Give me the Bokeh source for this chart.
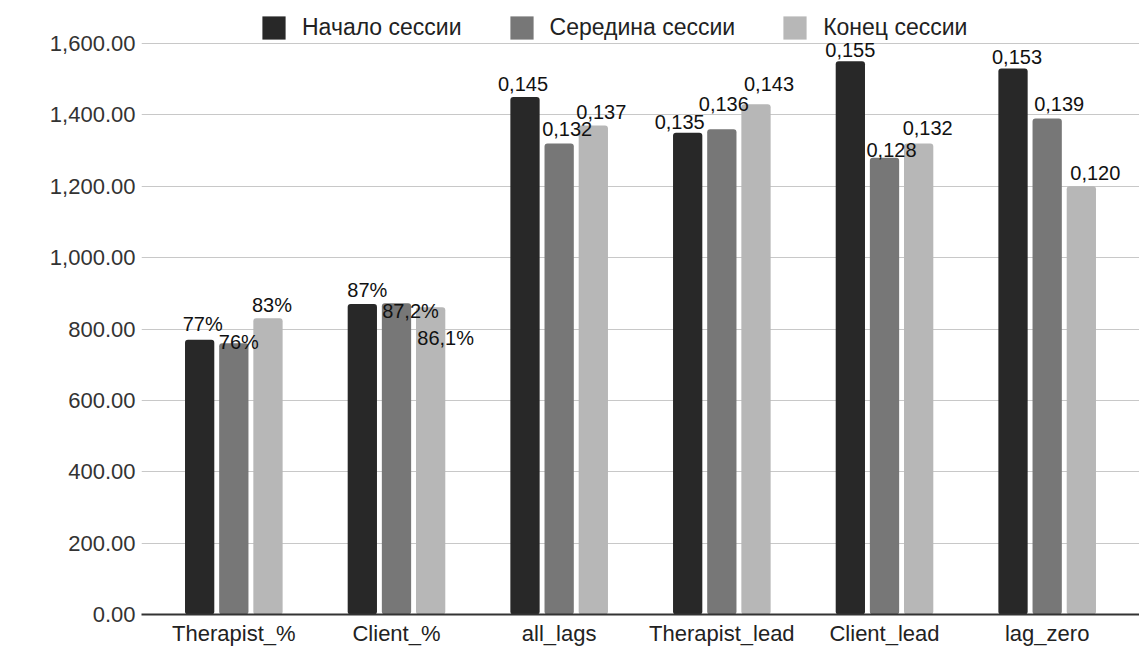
from bokeh.plotting import figure
from bokeh.models import (FactorRange, ColumnDataSource, Legend, LegendItem,
                          NumeralTickFormatter, FixedTicker, LabelSet, Range1d)
from bokeh.transform import dodge
from bokeh.embed import file_html
from bokeh.resources import INLINE
from bokeh.core.properties import value

# ---- data ----
categories = ["Therapist_%", "Client_%", "all_lags", "Therapist_lead", "Client_lead", "lag_zero"]
series_names = ["Начало сессии", "Середина сессии", "Конец сессии"]
start_values = [770, 870, 1450, 1350, 1550, 1530]
middle_values = [760, 872, 1320, 1360, 1280, 1390]
end_values = [830, 861, 1370, 1430, 1320, 1200]
start_labels = ["77%", "87%", "0,145", "0,135", "0,155", "0,153"]
middle_labels = ["76%", "87,2%", "0,132", "0,136", "0,128", "0,139"]
end_labels = ["83%", "86,1%", "0,137", "0,143", "0,132", "0,120"]
y_ticks = [0, 200, 400, 600, 800, 1000, 1200, 1400, 1600]

# ---- style ----
colors = ["#282828", "#777777", "#b7b7b7"]
offsets = [-0.21, 0.0, 0.21]
# label nudges in screen pixels (dx right, dy up), mimicking the original's placement
start_dx = [3, 5, -2, -8, 0, 4]
start_dy = [9, 7, 6, 4, 4, 4]
middle_dx = [5, 14, 8, 2, 7, 12]
middle_dy = [-6, -15, 7, 18, 1, 7]
end_dx = [4, 15, 8, 13, 9, 14]
end_dy = [6, -38, 7, 13, 8, 6]

FONT = "Liberation Sans"
W, H = 1139, 648
TOP, BOTTOM, LEFT = 5, 34, 141
PX_PER_UNIT = 571 / 1600.0           # vertical scale of the original
frame_h = H - TOP - BOTTOM
y_end = frame_h / PX_PER_UNIT       # headroom above 1600 holds the legend

p = figure(x_range=FactorRange(*categories), y_range=Range1d(0, y_end),
           width=W, height=H, output_backend="svg", toolbar_location=None,
           min_border_left=LEFT, min_border_right=0, min_border_top=TOP,
           min_border_bottom=BOTTOM)
p.x_range.range_padding = 0.0225

values_list = [start_values, middle_values, end_values]
labels_list = [start_labels, middle_labels, end_labels]
dx_list = [start_dx, middle_dx, end_dx]
dy_list = [start_dy, middle_dy, end_dy]

items = []
for i in range(3):
    src = ColumnDataSource(dict(cat=categories, val=values_list[i], lab=labels_list[i],
                                dx=dx_list[i], dy=dy_list[i]))
    r = p.vbar(x=dodge("cat", offsets[i], range=p.x_range), top="val", width=0.18,
               source=src, fill_color=colors[i], line_color=None, border_radius=3)
    items.append(LegendItem(label=series_names[i], renderers=[r]))
    ls = LabelSet(x=dodge("cat", offsets[i], range=p.x_range), y="val", text="lab",
                  x_offset="dx", y_offset="dy", source=src,
                  text_align="center", text_baseline="alphabetic",
                  text_font=value(FONT), text_font_size="20px", text_color="#111111")
    p.add_layout(ls)

legend = Legend(items=items, orientation="horizontal", location=(118, 572.5),
                glyph_width=29, glyph_height=29, label_standoff=14, spacing=45,
                padding=0, margin=0, border_line_alpha=0, background_fill_alpha=0,
                label_text_font=FONT, label_text_font_size="23px",
                label_text_color="#222222", label_height=29)
p.add_layout(legend, "center")

p.outline_line_color = None
p.xgrid.grid_line_color = None
p.ygrid.grid_line_color = "#c8c8c8"
p.ygrid.grid_line_width = 1

p.yaxis.ticker = FixedTicker(ticks=y_ticks)
p.yaxis.formatter = NumeralTickFormatter(format="0,0.00")
p.yaxis.axis_line_color = None
p.yaxis.major_tick_line_color = None
p.yaxis.minor_tick_line_color = None
p.yaxis.major_tick_out = 0
p.yaxis.minor_tick_out = 0
p.yaxis.major_label_standoff = 6
p.yaxis.major_label_text_font = FONT
p.yaxis.major_label_text_font_size = "22px"
p.yaxis.major_label_text_color = "#333333"

p.xaxis.axis_line_color = "#333333"
p.xaxis.axis_line_width = 2
p.xaxis.major_tick_line_color = None
p.xaxis.minor_tick_line_color = None
p.xaxis.major_tick_out = 0
p.xaxis.minor_tick_out = 0
p.xaxis.major_label_standoff = 6
p.xaxis.major_label_text_font = FONT
p.xaxis.major_label_text_font_size = "22px"
p.xaxis.major_label_text_color = "#222222"

open("out.html", "w").write(file_html(p, INLINE))
